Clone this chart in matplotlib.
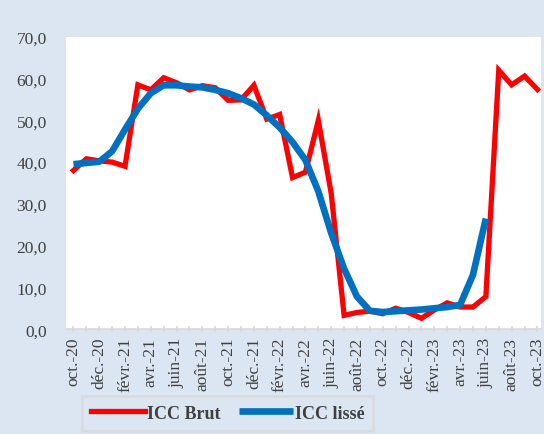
import matplotlib
matplotlib.use("Agg")
import matplotlib.pyplot as plt
import numpy as np

months = ["oct.-20","nov.-20","déc.-20","janv.-21","févr.-21","mars-21","avr.-21","mai-21",
          "juin-21","juil.-21","août-21","sept.-21","oct.-21","nov.-21","déc.-21","janv.-22",
          "févr.-22","mars-22","avr.-22","mai-22","juin-22","juil.-22","août-22","sept.-22",
          "oct.-22","nov.-22","déc.-22","janv.-23","févr.-23","mars-23","avr.-23","mai-23",
          "juin-23","juil.-23","août-23","sept.-23","oct.-23"]

icc_brut = [38.0, 40.8, 40.3, 40.0, 39.0, 58.5, 57.3, 60.2, 59.0, 57.3, 58.3, 57.8, 54.8,
            54.9, 58.4, 50.3, 51.4, 36.3, 37.6, 50.0, 32.5, 3.3, 4.0, 4.3, 3.7, 5.0, 4.0,
            2.6, 4.6, 6.3, 5.3, 5.3, 7.8, 62.0, 58.5, 60.6, 57.4]

icc_lisse = [39.5, 39.8, 40.1, 42.6, 47.8, 52.8, 56.5, 58.4, 58.4, 58.1, 57.9, 57.3, 56.5,
             55.3, 53.8, 51.2, 48.3, 44.8, 40.5, 33.0, 23.0, 14.5, 7.8, 4.4, 4.1, 4.3, 4.5,
             4.7, 5.0, 5.3, 5.8, 13.0, 26.5]

yticks = [0, 10, 20, 30, 40, 50, 60, 70]
ytick_labels = ["0,0", "10,0", "20,0", "30,0", "40,0", "50,0", "60,0", "70,0"]

plt.rcParams['font.family'] = ['Liberation Serif', 'DejaVu Serif']

bg = "#dce6f2"
fig = plt.figure(figsize=(5.44, 4.35), dpi=100, facecolor=bg)
ax = fig.add_axes([0.122, 0.241, 0.873, 0.672])
ax.set_facecolor("white")

x_all = np.arange(len(months))
ax.plot(x_all, icc_brut, color="#ff0000", lw=3.8, solid_joinstyle="miter", label="ICC Brut")
ax.plot(np.arange(len(icc_lisse)), icc_lisse, color="#0070c0", lw=4.8,
        solid_capstyle="butt", label="ICC lissé")

ax.set_ylim(0, 70)
ax.set_xlim(-0.55, 36.3)
ax.set_yticks(yticks)
ax.set_yticklabels(ytick_labels)
ax.set_xticks(x_all[::2])
ax.set_xticklabels(months[::2], rotation=90)
ax.set_xticks(x_all, minor=True)

for s in ["top", "right", "left"]:
    ax.spines[s].set_visible(False)
ax.spines["bottom"].set_color("#d9d9d9")
ax.spines["bottom"].set_linewidth(1.2)
ax.tick_params(axis="y", length=0, labelsize=12.5, labelcolor="#404040", pad=14)
ax.tick_params(axis="x", which="both", length=5, color="#d9d9d9", width=1.2,
               direction="inout", labelsize=12.5, labelcolor="#404040", pad=3)

leg = fig.legend(loc="upper left", bbox_to_anchor=(0.151, 0.088), ncol=2,
                 frameon=True, fancybox=False, handlelength=3.0, handletextpad=0.1,
                 columnspacing=1.0, borderpad=0.5, borderaxespad=0,
                 prop={"weight": "bold", "size": 13})
leg.get_frame().set_edgecolor("#d9d9d9")
leg.get_frame().set_linewidth(2)
leg.get_frame().set_facecolor(bg)
for t in leg.get_texts():
    t.set_color("#404040")

fig.savefig("out.png", dpi=100, facecolor=bg)
